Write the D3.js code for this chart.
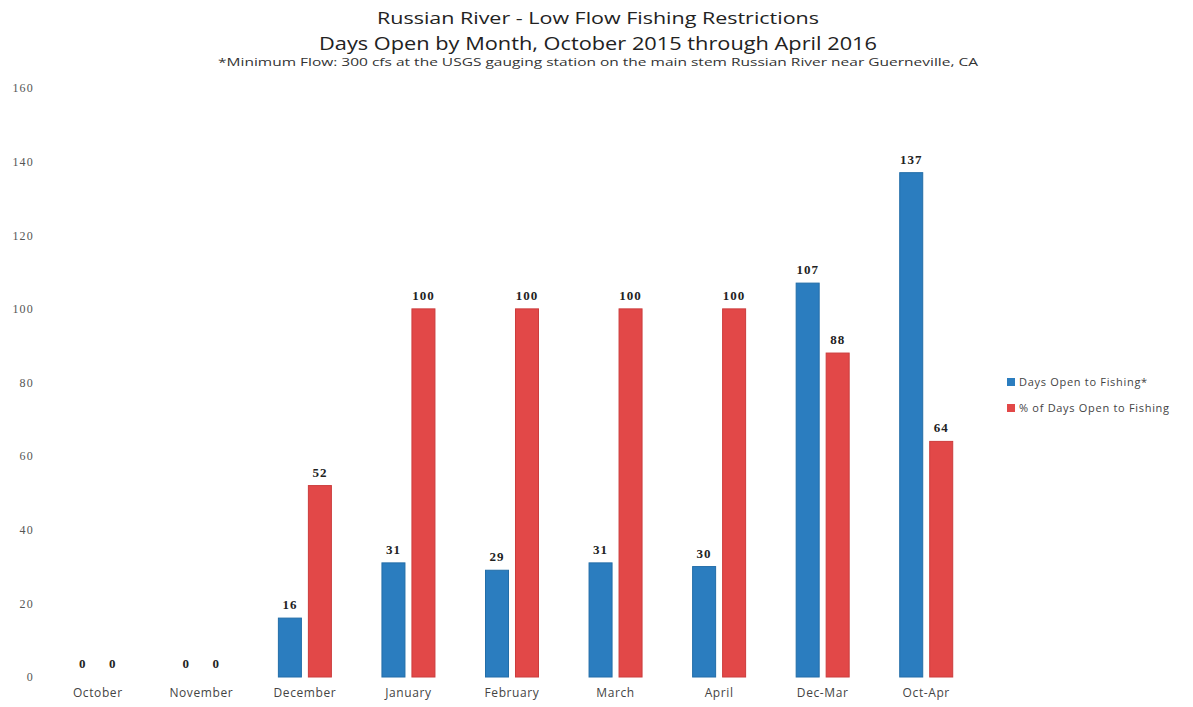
<!DOCTYPE html>
<html><head><meta charset="utf-8">
<script src="https://cdn.jsdelivr.net/npm/d3@7"></script>
<style>body{margin:0;background:#fff;} svg{display:block;}</style>
</head><body>
<svg id="c" width="1193" height="707"></svg>
<script>
const categories = ["October","November","December","January","February","March","April","Dec-Mar","Oct-Apr"];
const daysOpen = [0,0,16,31,29,31,30,107,137];
const pctOpen = [0,0,52,100,100,100,100,88,64];
const seriesNames = ["Days Open to Fishing*","% of Days Open to Fishing"];
const yTicks = [0,20,40,60,80,100,120,140,160];
const titleLines = ["Russian River - Low Flow Fishing Restrictions","Days Open by Month, October 2015 through April 2016"];
const subtitle = "*Minimum Flow: 300 cfs at the USGS gauging station on the main stem Russian River near Guerneville, CA";

const colors = ["#2b7dbf","#e24848"];
const strokes = ["#226da8","#cc3c3c"];
const sans = "'Open Sans', Lato, sans-serif";
const serif = "'Liberation Serif', 'DejaVu Serif', serif";
const svg = d3.select("#c");
const x = d3.scaleBand().domain(categories).range([46,978]).paddingInner(0).paddingOuter(0);
const x1 = d3.scaleBand().domain([0,1]).range([x.bandwidth()/2-26.5, x.bandwidth()/2+26.5]).paddingInner(0.233).paddingOuter(0);
const y = d3.scaleLinear().domain([0,160]).range([677,88]);

// titles
function title(txt, yy, size, len, col){
  svg.append("text").attr("x",598).attr("y",yy).attr("text-anchor","middle")
    .attr("textLength",len).attr("lengthAdjust","spacingAndGlyphs")
    .style("font-family",sans).style("font-size",size+"px").attr("fill",col).text(txt);
}
title(titleLines[0], 24, 17, 442, "#222");
title(titleLines[1], 50, 19, 558, "#222");
title(subtitle, 66, 11, 760, "#333");

// y axis
const yAxis = d3.axisLeft(y).tickValues(yTicks).tickSize(0).tickPadding(0);
const yg = svg.append("g").attr("transform","translate(34,0)").call(yAxis);
yg.select(".domain").remove();
yg.selectAll("text").style("font-family",serif).style("font-size","12px").style("letter-spacing","1.2px").attr("fill","#555");

// x axis
const xAxis = d3.axisBottom(x).tickSize(0).tickPadding(0);
const xg = svg.append("g").attr("transform","translate(0,688)").call(xAxis);
xg.select(".domain").remove();
xg.selectAll("text").style("font-family",sans).style("font-size","12px").style("letter-spacing","0.6px").attr("fill","#444");

// bars
const series = [daysOpen, pctOpen];
series.forEach((vals, si) => {
  const g = svg.append("g");
  g.selectAll("rect").data(categories).join("rect")
    .attr("x", d => x(d) + x1(si))
    .attr("y", (d,i) => y(vals[i]))
    .attr("width", x1.bandwidth())
    .attr("height", (d,i) => y(0) - y(vals[i]))
    .attr("fill", colors[si])
    .attr("stroke", strokes[si]).attr("stroke-width", 1);
  g.selectAll("text").data(categories).join("text")
    .attr("x", d => x(d) + x1(si) + x1.bandwidth()/2)
    .attr("y", (d,i) => y(vals[i]) - 9)
    .attr("text-anchor","middle")
    .style("font-family",serif).style("font-size","13px").style("font-weight","600").style("letter-spacing","1px").attr("fill","#222")
    .text((d,i) => vals[i]);
});

// legend
const lg = svg.append("g").attr("transform","translate(1007,378)");
seriesNames.forEach((n,i) => {
  lg.append("rect").attr("x",0).attr("y",i*26).attr("width",8).attr("height",8).attr("fill",colors[i]);
  lg.append("text").attr("x",12).attr("y",i*26+8).style("font-family",sans)
    .style("font-size","11px").style("letter-spacing","0.7px").attr("fill","#444").text(n);
});
</script>
</body></html>
